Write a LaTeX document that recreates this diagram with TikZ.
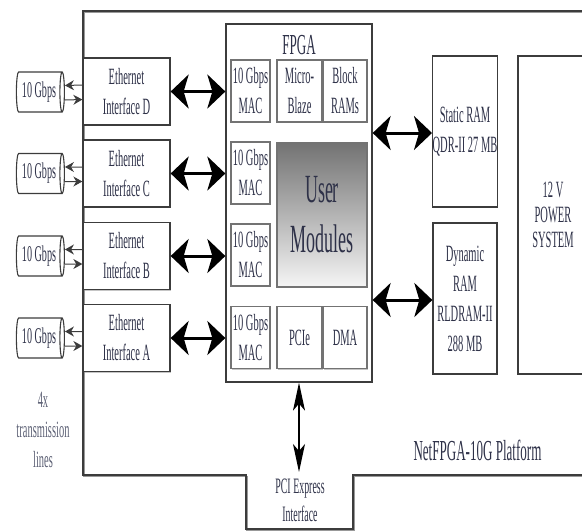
\documentclass[tikz,border=0pt]{standalone}
\usepackage{fontspec}
\setmainfont{Liberation Serif}[FakeStretch=0.45]
\usetikzlibrary{shapes.geometric,shadows,arrows.meta}
\definecolor{ln}{HTML}{3C3C3C}
\definecolor{tx}{HTML}{2E3148}
\definecolor{tx2}{HTML}{5E6276}
\begin{document}
\begin{tikzpicture}[x=1pt,y=-1pt,
  box/.style={draw=ln, line width=1.3pt, fill=white, align=center, text=tx, inner sep=0pt,
    drop shadow={shadow xshift=0.8pt,shadow yshift=-1.4pt,fill=black!45}},
  ibox/.style={box, draw=black!55, line width=1.1pt},
  fs/.style={font=\fontsize{23.3}{30}\selectfont},
  fsp/.style={font=\fontsize{23.3}{25}\selectfont},
  fbig/.style={font=\fontsize{29}{30}\selectfont},
  fum/.style={font=\fontsize{40}{50}\selectfont},
  cable/.style={cylinder, draw=ln, line width=1.1pt, fill=white, aspect=0.22,
    minimum height=48, minimum width=40, inner sep=0pt, text=tx, font=\fontsize{22.5}{24}\selectfont},
  sarr/.style={draw=ln, line width=1pt, -{Stealth[length=9pt,width=10pt]}},
  barr/.style={draw=black, line width=3pt,
    {Stealth[length=18pt,width=34pt,inset=5pt]}-{Stealth[length=18pt,width=34pt,inset=5pt]}},
  varr/.style={draw=black, line width=1.3pt,
    {Stealth[length=28pt,width=12pt,inset=7pt]}-{Stealth[length=28pt,width=12pt,inset=7pt]}}
]
\useasboundingbox (0,0) rectangle (582,531);
\clip (0,0) rectangle (582,531);
% platform outline
\draw[black!40, line width=1.6pt, xshift=0.8pt, yshift=-1.4pt]
  (600,11) -- (83,11) -- (83,475) -- (246,475) -- (246,529) -- (353,529) -- (353,475) -- (600,475);
\draw[ln, line width=1.6pt]
  (600,11) -- (83,11) -- (83,475) -- (246,475) -- (246,529) -- (353,529) -- (353,475) -- (600,475);

% Ethernet interfaces
\node[box,fs,minimum width=87,minimum height=67] (ethD) at (126.5,91.5) {Ethernet\\Interface D};
\node[box,fs,minimum width=87,minimum height=67] (ethC) at (126.5,173.5) {Ethernet\\Interface C};
\node[box,fs,minimum width=87,minimum height=67] (ethB) at (126.5,256) {Ethernet\\Interface B};
\node[box,fs,minimum width=87,minimum height=67] (ethA) at (126.5,338) {Ethernet\\Interface A};

% cables
\node[cable] (cabD) at (39,92) {10 Gbps};
\node[cable] (cabC) at (39,173.5) {10 Gbps};
\node[cable] (cabB) at (39,256) {10 Gbps};
\node[cable] (cabA) at (39,338) {10 Gbps};

\foreach \n in {A,B,C,D}{
  \draw[sarr] ([yshift=6.5pt]eth\n.west) -- ([yshift=6.5pt]cab\n.east);
  \draw[sarr] ([yshift=-8pt]cab\n.east) -- ([yshift=-8pt]eth\n.west);
}

% FPGA
\node[box,minimum width=146,minimum height=358] (fpga) at (299,203) {};
\node[text=tx,fbig] (fpgat) at (299,45) {FPGA};
\node[ibox,fs,minimum width=39,minimum height=62] (macD) at (250.5,91) {10 Gbps\\MAC};
\node[ibox,fs,minimum width=39,minimum height=62] (macC) at (250.5,173) {10 Gbps\\MAC};
\node[ibox,fs,minimum width=39,minimum height=62] (macB) at (250.5,255) {10 Gbps\\MAC};
\node[ibox,fs,minimum width=39,minimum height=62] (macA) at (250.5,337.5) {10 Gbps\\MAC};
\node[ibox,fs,minimum width=45,minimum height=62] (mb) at (299.5,91) {Micro-\\Blaze};
\node[ibox,fs,minimum width=44,minimum height=62] (bram) at (345,91) {Block\\RAMs};
\node[ibox,fum,minimum width=90,minimum height=144,top color=black!55,bottom color=black!4] (um) at (322,215) {User\\Modules};
\node[ibox,fs,minimum width=45,minimum height=62] (pcie) at (299.5,337.5) {PCIe};
\node[ibox,fs,minimum width=44,minimum height=62] (dma) at (345,337.5) {DMA};

% memories and power
\node[box,fs,minimum width=64,minimum height=151] (sram) at (465,131.5) {Static RAM\\QDR-II 27 MB};
\node[box,fs,minimum width=64,minimum height=151] (dram) at (465,298.5) {Dynamic\\RAM\\RLDRAM-II\\288 MB};
\node[box,fsp,minimum width=70,minimum height=318] (power) at (553,215) {12 V\\POWER\\SYSTEM};

% big arrows
\foreach \n in {A,B,C,D}{
  \draw[barr] (eth\n.east) -- (eth\n.east -| fpga.west);
}
\draw[barr] ([yshift=-1.5pt]sram.west -| fpga.east) -- ([yshift=-1.5pt]sram.west);
\draw[barr] ([yshift=-1.5pt]dram.west -| fpga.east) -- ([yshift=-1.5pt]dram.west);

% PCI express
\node[text=tx,align=center,font=\fontsize{22}{28}\selectfont] (pci) at (300,500) {PCI Express\\Interface};
\coordinate (pcitop) at (299,472);
\draw[varr] (fpga.south) -- (pcitop);

% labels
\node[text=tx2,align=center,font=\fontsize{23.3}{30}\selectfont] (lines) at (43,430) {4x\\transmission\\lines};
\node[text=tx,fbig] (plat) at (477.5,450) {NetFPGA-10G Platform};
\end{tikzpicture}
\end{document}
